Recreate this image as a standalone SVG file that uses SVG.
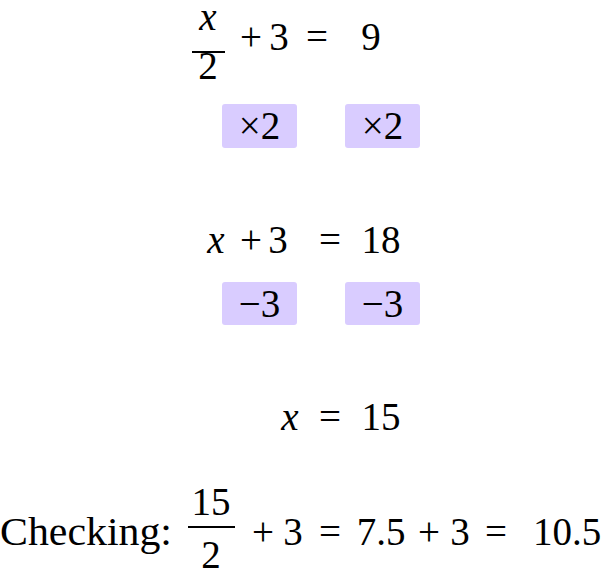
<svg xmlns="http://www.w3.org/2000/svg" width="613" height="576" viewBox="0 0 613 576">
<style>
text{font-family:"Liberation Serif","DejaVu Serif",serif;font-size:39px;fill:#000;text-anchor:middle}
.i{font-style:italic}
.b{fill:#d9ccff}
.bar{stroke:#000;stroke-width:2}
</style>
<rect width="613" height="576" fill="#fff"/>
<g id="eq1">
<text x="208" y="30" class="i">x</text>
<line class="bar" x1="192" y1="52" x2="225" y2="52"/>
<text x="208" y="79">2</text>
<text x="251" y="50">+</text><text x="279" y="50">3</text><text x="317" y="50">=</text><text x="371" y="50">9</text>
</g>
<g id="step1">
<rect class="b" x="222" y="104" width="75" height="44" rx="3"/>
<rect class="b" x="345" y="104" width="75" height="44" rx="3"/>
<text x="259.5" y="139">×2</text>
<text x="382.5" y="139">×2</text>
</g>
<g id="eq2">
<text x="216" y="253" class="i">x</text><text x="251" y="253">+</text><text x="278" y="253">3</text><text x="330" y="253">=</text><text x="381" y="253">18</text>
</g>
<g id="step2">
<rect class="b" x="222" y="282" width="75" height="43" rx="3"/>
<rect class="b" x="345" y="282" width="75" height="43" rx="3"/>
<text x="259.5" y="317">−3</text>
<text x="382.5" y="317">−3</text>
</g>
<g id="eq3">
<text x="290" y="430" class="i">x</text><text x="330" y="430">=</text><text x="381" y="430">15</text>
</g>
<g id="check">
<text x="86" y="545" textLength="172" lengthAdjust="spacingAndGlyphs">Checking:</text>
<text x="211" y="515">15</text>
<line class="bar" x1="188" y1="527" x2="235" y2="527"/>
<text x="211" y="568">2</text>
<text x="263" y="545">+</text><text x="293" y="545">3</text><text x="330" y="545">=</text><text x="381" y="545">7.5</text><text x="429" y="545">+</text><text x="460" y="545">3</text><text x="496" y="545">=</text><text x="567" y="545">10.5</text>
</g>
</svg>
